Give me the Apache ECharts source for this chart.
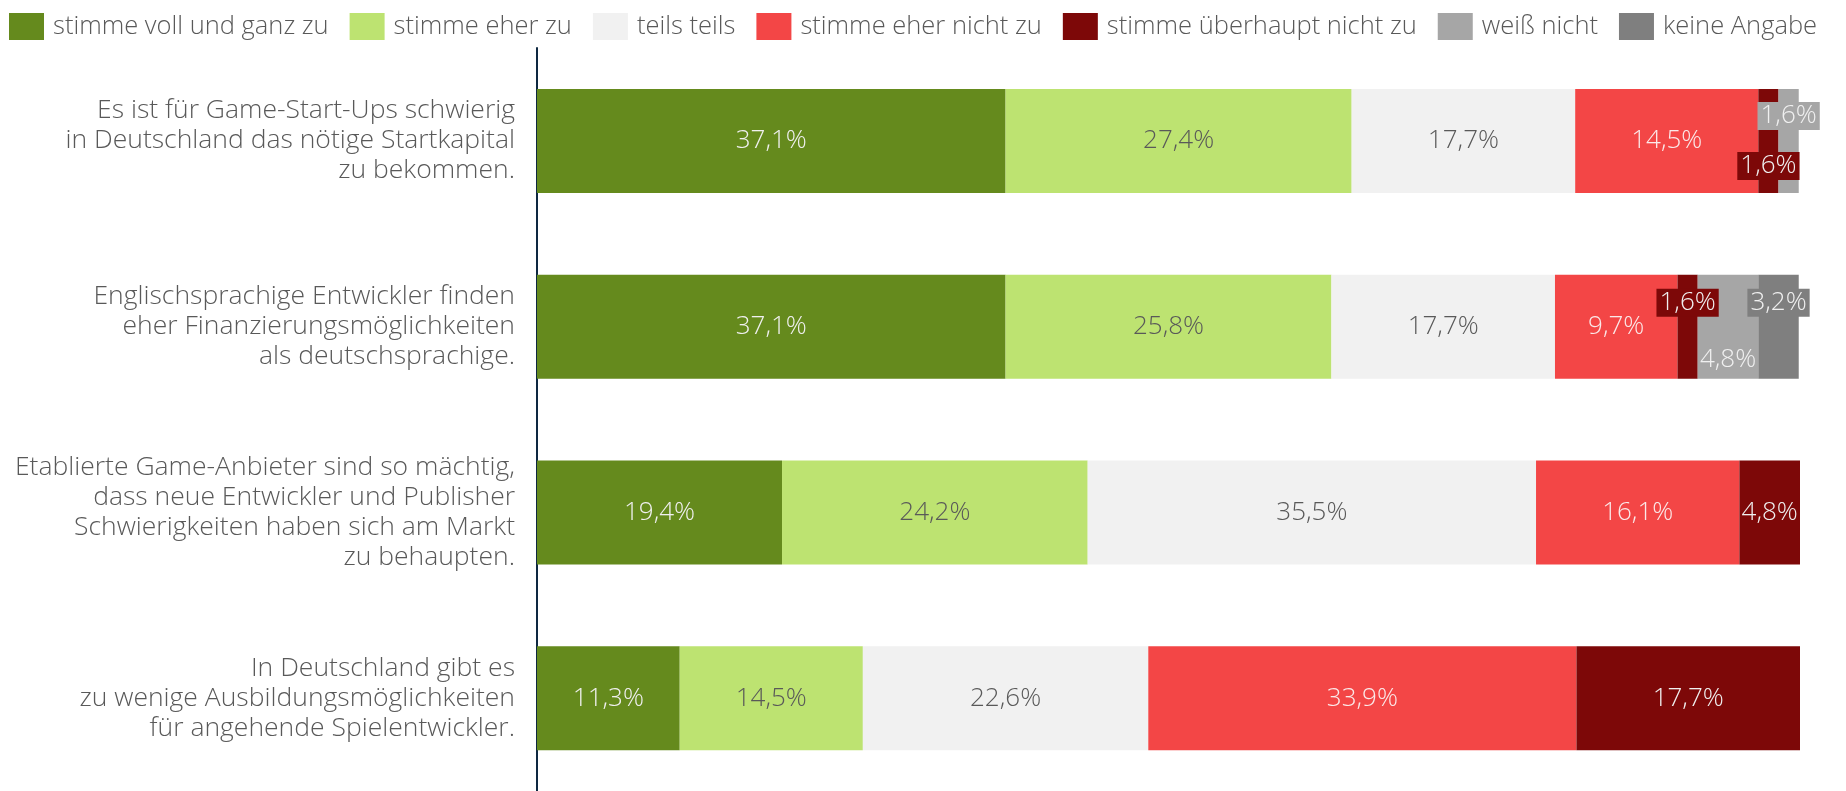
<!DOCTYPE html>
<html>
<head>
<meta charset="utf-8">
<script src="https://cdn.jsdelivr.net/npm/echarts@6/dist/echarts.min.js"></script>
<style>
  html, body { margin: 0; padding: 0; background: #ffffff; }
  #chart { width: 1846px; height: 791px; }
</style>
</head>
<body>
<div id="chart"></div>
<script>
// Survey statements (top to bottom)
const statements = [
  'Es ist für Game-Start-Ups schwierig\nin Deutschland das nötige Startkapital\nzu bekommen.',
  'Englischsprachige Entwickler finden\neher Finanzierungsmöglichkeiten\nals deutschsprachige.',
  'Etablierte Game-Anbieter sind so mächtig,\ndass neue Entwickler und Publisher\nSchwierigkeiten haben sich am Markt\nzu behaupten.',
  'In Deutschland gibt es\nzu wenige Ausbildungsmöglichkeiten\nfür angehende Spielentwickler.'
];

// Answer categories
const answers = [
  'stimme voll und ganz zu',
  'stimme eher zu',
  'teils teils',
  'stimme eher nicht zu',
  'stimme überhaupt nicht zu',
  'weiß nicht',
  'keine Angabe'
];

// Shares in percent, one array per answer, ordered like statements
const vollUndGanz     = [37.1, 37.1, 19.4, 11.3];
const eherZu          = [27.4, 25.8, 24.2, 14.5];
const teilsTeils      = [17.7, 17.7, 35.5, 22.6];
const eherNicht       = [14.5, 9.7, 16.1, 33.9];
const ueberhauptNicht = [1.6, 1.6, 4.8, 17.7];
const weissNicht      = [1.6, 4.8, 0, 0];
const keineAngabe     = [0, 3.2, 0, 0];

const seriesValues = [vollUndGanz, eherZu, teilsTeils, eherNicht, ueberhauptNicht, weissNicht, keineAngabe];

const colors = ['#658a1d', '#bde371', '#f1f1f1', '#f34646', '#7d0808', '#a6a6a6', '#7f7f7f'];
const labelColors = ['#f0f0f0', '#595959', '#595959', '#fbe9e9', '#f0f0f0', '#f0f0f0', '#f0f0f0'];

const FONT = '"Open Sans", "Noto Sans", sans-serif';

// Narrow segments get their label shifted up or down; some on a tag in the segment colour
// key: seriesIndex-categoryIndex -> [verticalOffset, withBackground]
const shifted = {
  '4-0': [25, true],
  '5-0': [-25, true],
  '4-1': [-24, true],
  '5-1': [33, false],
  '6-1': [-24, true]
};

const fmt = v => v.toFixed(1).replace('.', ',') + '%';

const series = answers.map((name, si) => ({
  name: name,
  type: 'bar',
  stack: 'total',
  barWidth: 104,
  itemStyle: { color: colors[si] },
  emphasis: { disabled: true },
  data: seriesValues[si].map((v, ci) => {
    const item = { value: v };
    const s = shifted[si + '-' + ci];
    if (s) {
      item.label = {
        offset: [0, s[0]],
        backgroundColor: s[1] ? colors[si] : 'transparent',
        padding: s[1] ? [2, 3, 0, 3] : 0
      };
    }
    return item;
  }),
  label: {
    show: true,
    position: 'inside',
    color: labelColors[si],
    fontFamily: FONT,
    fontWeight: 300,
    fontSize: 26,
    formatter: p => (p.value > 0 ? fmt(p.value) : '')
  }
}));

const chart = echarts.init(document.getElementById('chart'), null, { renderer: 'canvas' });
chart.setOption({
  animation: false,
  backgroundColor: '#ffffff',
  textStyle: { fontFamily: FONT },
  legend: {
    data: answers,
    top: 8,
    left: 4,
    width: 1840,
    icon: 'rect',
    itemWidth: 35,
    itemHeight: 27,
    itemGap: 21,
    textStyle: {
      fontFamily: FONT,
      fontWeight: 300,
      fontSize: 25.5,
      color: '#595959',
      padding: [0, 0, 0, 4]
    },
    selectedMode: false
  },
  grid: {
    left: 537,
    right: 46,
    top: 48,
    bottom: 0,
    containLabel: false
  },
  xAxis: {
    type: 'value',
    min: 0,
    max: 100,
    show: false
  },
  yAxis: {
    type: 'category',
    inverse: true,
    data: statements,
    axisTick: { show: false },
    axisLine: { show: true, lineStyle: { color: '#0e2841', width: 2 } },
    axisLabel: {
      margin: 22,
      align: 'right',
      fontFamily: FONT,
      fontWeight: 300,
      fontSize: 26.5,
      lineHeight: 30,
      color: '#595959'
    }
  },
  series: series
});
</script>
</body>
</html>
